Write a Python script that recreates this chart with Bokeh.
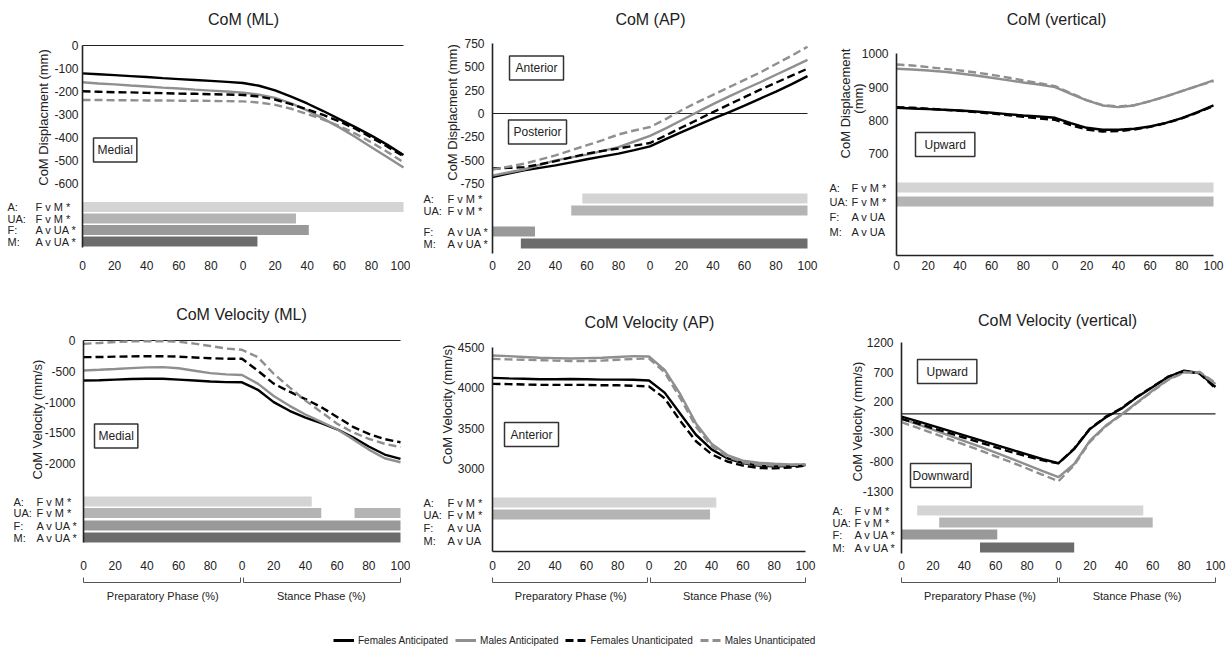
import math
from bokeh.plotting import figure
from bokeh.models import (Range1d, FixedTicker, Label, Legend, LegendItem, LinearAxis)
from bokeh.layouts import column, row
from bokeh.embed import file_html
from bokeh.resources import INLINE

FONT = "Liberation Sans"
TXT = "#222222"

# ---------------- data ----------------
# x: 0-100 = preparatory phase (%), 100-200 = stance phase (0-100 %)
X = list(range(0, 201, 10))
x_ticks = list(range(0, 201, 20))
x_tick_labels = ["0", "20", "40", "60", "80", "0", "20", "40", "60", "80", "100"]
phase_labels = ["Preparatory Phase (%)", "Stance Phase (%)"]
phase_spans = [(0, 100), (100, 200)]

series = ["Females Anticipated", "Males Anticipated", "Females Unanticipated", "Males Unanticipated"]
row_prefix = ["A:", "UA:", "F:", "M:"]
row_compare = ["F v M", "F v M", "A v UA", "A v UA"]

titles = ["CoM (ML)", "CoM (AP)", "CoM (vertical)",
          "CoM Velocity (ML)", "CoM Velocity (AP)", "CoM Velocity (vertical)"]
y_labels = [["CoM Displacment (mm)"], ["CoM Displacment (mm)"], ["CoM Displacement", "(mm)"],
            ["CoM Velocity (mm/s)"], ["CoM Velocity (mm/s)"], ["CoM Velocity (mm/s)"]]
direction_labels = [["Medial"], ["Anterior", "Posterior"], ["Upward"],
                    ["Medial"], ["Anterior"], ["Upward", "Downward"]]

# Panel 1: CoM (ML) displacement (mm)
ml_disp_fa = [-121, -125, -129, -133, -137, -142, -146, -150, -154, -158, -163, -175, -195, -222, -252, -285, -320, -355, -392, -432, -476]
ml_disp_ma = [-160, -165, -169, -174, -178, -183, -187, -192, -196, -200, -205, -214, -228, -252, -282, -318, -356, -398, -442, -486, -530]
ml_disp_fua = [-199, -201, -203, -204, -206, -207, -209, -210, -212, -213, -215, -222, -235, -255, -278, -302, -330, -362, -400, -440, -482]
ml_disp_mua = [-237, -237, -238, -238, -239, -239, -240, -240, -241, -242, -243, -248, -258, -275, -298, -322, -350, -383, -421, -463, -508]
ml_disp_yticks = [0, -100, -200, -300, -400, -500, -600]
ml_disp_sig = [[(0, 200)], [(0, 133)], [(0, 141)], [(0, 109)]]

# Panel 2: CoM (AP) displacement (mm)
ap_disp_fa = [-680, -645, -610, -583, -556, -523, -490, -460, -430, -393, -352, -275, -200, -128, -55, 12, 85, 160, 235, 315, 400]
ap_disp_ma = [-665, -632, -600, -550, -502, -470, -440, -400, -360, -300, -240, -160, -72, 15, 100, 180, 260, 335, 415, 495, 575]
ap_disp_fua = [-590, -583, -574, -545, -510, -470, -430, -400, -375, -345, -316, -235, -150, -68, 15, 95, 175, 255, 330, 405, 480]
ap_disp_mua = [-600, -570, -538, -495, -449, -395, -340, -285, -225, -182, -145, -60, 35, 120, 200, 280, 360, 440, 530, 620, 715]
ap_disp_yticks = [750, 500, 250, 0, -250, -500, -750]
ap_disp_sig = [[(57, 200)], [(50, 200)], [(0, 27)], [(18, 200)]]

# Panel 3: CoM (vertical) displacement (mm)
v_disp_fa = [838, 836, 834, 832, 830, 827, 823, 819, 815, 812, 808, 792, 778, 772, 772, 775, 782, 793, 807, 825, 845]
v_disp_ma = [955, 953, 950, 946, 941, 935, 928, 921, 914, 908, 900, 880, 860, 845, 840, 845, 858, 872, 888, 904, 920]
v_disp_fua = [840, 838, 835, 832, 829, 825, 821, 816, 811, 806, 802, 786, 773, 767, 768, 773, 781, 792, 806, 824, 843]
v_disp_mua = [968, 965, 960, 955, 950, 944, 937, 929, 920, 912, 903, 882, 861, 846, 842, 846, 858, 872, 888, 904, 918]
v_disp_yticks = [1000, 900, 800, 700]
v_disp_sig = [[(0, 200)], [(0, 200)], [], []]

# Panel 4: CoM velocity (ML) (mm/s)
ml_vel_fa = [-650, -645, -635, -625, -620, -620, -635, -650, -665, -675, -678, -800, -1000, -1140, -1250, -1340, -1440, -1570, -1720, -1850, -1920]
ml_vel_ma = [-486, -475, -462, -448, -436, -432, -450, -490, -530, -550, -560, -700, -900, -1060, -1200, -1320, -1440, -1600, -1770, -1910, -1975]
ml_vel_fua = [-270, -268, -262, -258, -255, -255, -262, -275, -288, -295, -297, -490, -700, -830, -950, -1080, -1240, -1400, -1515, -1600, -1650]
ml_vel_mua = [-54, -40, -25, -15, -12, -11, -20, -50, -90, -130, -151, -270, -540, -760, -975, -1160, -1350, -1490, -1595, -1675, -1730]
ml_vel_yticks = [0, -500, -1000, -1500, -2000]
ml_vel_sig = [[(0, 144)], [(0, 150), (171, 200)], [(0, 200)], [(0, 200)]]

# Panel 5: CoM velocity (AP) (mm/s)
ap_vel_fa = [4122, 4115, 4110, 4105, 4105, 4108, 4105, 4100, 4100, 4098, 4090, 3940, 3680, 3420, 3240, 3130, 3070, 3040, 3030, 3035, 3045]
ap_vel_ma = [4397, 4390, 4380, 4370, 4365, 4360, 4365, 4370, 4380, 4390, 4385, 4220, 3920, 3560, 3310, 3170, 3100, 3075, 3062, 3055, 3055]
ap_vel_fua = [4048, 4045, 4040, 4035, 4035, 4035, 4035, 4030, 4030, 4025, 4015, 3870, 3590, 3340, 3180, 3090, 3040, 3010, 3005, 3015, 3040]
ap_vel_mua = [4356, 4350, 4345, 4340, 4335, 4330, 4330, 4335, 4345, 4355, 4360, 4190, 3870, 3520, 3280, 3150, 3080, 3050, 3040, 3045, 3055]
ap_vel_yticks = [4500, 4000, 3500, 3000]
ap_vel_sig = [[(0, 143)], [(0, 139)], [], []]

# Panel 6: CoM velocity (vertical) (mm/s)
v_vel_fa = [-45, -120, -200, -280, -360, -440, -520, -600, -680, -760, -826, -590, -255, -60, 85, 280, 450, 620, 725, 680, 450]
v_vel_ma = [-84, -170, -265, -360, -455, -550, -650, -750, -855, -960, -1060, -840, -450, -200, -10, 190, 390, 580, 700, 690, 500]
v_vel_fua = [-84, -160, -240, -320, -400, -480, -560, -640, -710, -780, -830, -580, -250, -50, 95, 285, 455, 625, 720, 670, 430]
v_vel_mua = [-140, -230, -325, -420, -515, -610, -710, -810, -915, -1020, -1127, -860, -470, -210, -20, 180, 380, 570, 690, 700, 520]
v_vel_yticks = [1200, 700, 200, -300, -800, -1300]
v_vel_sig = [[(10, 154)], [(24, 160)], [(0, 61)], [(50, 110)]]

# ---------------- styles ----------------
line_colors = ["#000000", "#8f8f8f", "#000000", "#8f8f8f"]
line_dashes = ["solid", "solid", "8 4", "8 4"]
bar_colors = ["#d4d4d4", "#b4b4b4", "#999999", "#6c6c6c"]

# ---------------- layout (page pixels) ----------------
LAY = [
    dict(x0=0, w=410, y0=0, h=290, fb=255, ax=82, x200=403, ta=(0, 45), tb=(-600, 183), ybot=247, ystd=4,
         rows=[206.5, 218, 229.5, 241], title=(243, 19), xline=False, zero=True, pre=7, comp=35,
         ylab=[(43, 117)], boxes=[(88, 149.5, 4)]),
    dict(x0=410, w=408, y0=0, h=290, fb=255, ax=492, x200=807, ta=(750, 43), tb=(-750, 183), ybot=253, ystd=8,
         rows=[198, 210, 231, 243], title=(650, 19), xline=False, zero=True, pre=423, comp=447,
         ylab=[(452, 112)], boxes=[(502, 67.5, 6), (502, 131.5, 5)]),
    dict(x0=818, w=410, y0=0, h=290, fb=255, ax=896, x200=1213, ta=(1000, 53.3), tb=(700, 153.3), ybot=255, ystd=8,
         rows=[187, 201, 216, 231], title=(1056, 19), xline=True, zero=False, pre=829, comp=851,
         ylab=[(845, 103), (858, 98)], boxes=[(905, 144, 9)]),
    dict(x0=0, w=410, y0=290, h=322, fb=551, ax=83, x200=400, ta=(0, 340), tb=(-2000, 463.3), ybot=542, ystd=8,
         rows=[501, 512.5, 525, 537], title=(241, 314), xline=False, zero=True, pre=13, comp=36,
         ylab=[(37, 419)], boxes=[(89, 435.5, 4)]),
    dict(x0=410, w=408, y0=290, h=322, fb=551, ax=492, x200=805, ta=(4500, 346.7), tb=(3000, 468.3), ybot=551, ystd=8,
         rows=[502, 514, 527, 540], title=(649, 322), xline=True, zero=False, pre=423, comp=447,
         ylab=[(447, 404)], boxes=[(497, 434, 6)]),
    dict(x0=818, w=410, y0=290, h=322, fb=551, ax=901, x200=1215, ta=(1200, 341.7), tb=(-1300, 491), ybot=553, ystd=8,
         rows=[510, 522, 534, 547], title=(1057, 320), xline=False, zero=True, pre=832, comp=854,
         ylab=[(857, 421)], boxes=[(907, 371, 9), (907, 475, 2)]),
]
BRACKET_Y = 582
BRACKET_GAP = 0.7


def make_panel(i, ser, yticks, sig, L, bottom_row):
    (va, pa), (vb, pb) = L["ta"], L["tb"]
    ppu = (pb - pa) / (va - vb)

    def ydat(p):
        return va - (p - pa) / ppu

    def xdat(p):
        return (p - L["ax"]) / (L["x200"] - L["ax"]) * 200.0

    p = figure(width=L["w"], height=L["h"],
               x_range=Range1d(xdat(L["x0"]), xdat(L["x0"] + L["w"])),
               y_range=Range1d(ydat(L["y0"] + L["h"]), ydat(L["y0"])),
               output_backend="svg", toolbar_location=None, x_axis_type=None, y_axis_type=None,
               min_border=0, outline_line_color=None,
               background_fill_color="white", border_fill_color="white")

    top_tick = max(yticks)
    ya = LinearAxis(ticker=FixedTicker(ticks=yticks), fixed_location=0, bounds=(ydat(L["ybot"]), top_tick),
                    major_label_overrides={t: str(t) for t in yticks},
                    axis_line_color="#222222", axis_line_width=1.6,
                    major_tick_line_color=None, minor_tick_line_color=None,
                    major_tick_in=0, major_tick_out=0, minor_tick_in=0, minor_tick_out=0,
                    major_label_text_font=FONT, major_label_text_font_size="12px",
                    major_label_text_color=TXT, major_label_standoff=L["ystd"])
    p.add_layout(ya, "left")

    xa = LinearAxis(ticker=FixedTicker(ticks=x_ticks), fixed_location=ydat(L["fb"]), bounds=(0, 200),
                    major_label_overrides={t: s for t, s in zip(x_ticks, x_tick_labels)},
                    axis_line_color="#222222" if L["xline"] else None, axis_line_width=1.6,
                    major_tick_line_color=None, minor_tick_line_color=None,
                    major_tick_in=0, major_tick_out=0, minor_tick_in=0, minor_tick_out=0,
                    major_label_text_font=FONT, major_label_text_font_size="12px",
                    major_label_text_color=TXT, major_label_standoff=5 if not bottom_row else 9)
    p.add_layout(xa, "below")

    if bottom_row:
        for k, ((a, b), lab) in enumerate(zip(phase_spans, phase_labels)):
            a2 = a + (BRACKET_GAP if k > 0 else 0)
            b2 = b - (BRACKET_GAP if k == 0 else 0)
            mid = (a + b) / 2
            ph = LinearAxis(ticker=FixedTicker(ticks=[mid], minor_ticks=[a2, b2]),
                            fixed_location=ydat(BRACKET_Y), bounds=(a2, b2),
                            major_label_overrides={mid: lab},
                            axis_line_color="#555555", axis_line_width=1,
                            major_tick_line_color=None, minor_tick_line_color="#555555",
                            major_tick_in=0, major_tick_out=0,
                            minor_tick_in=5, minor_tick_out=0,
                            major_label_text_font=FONT, major_label_text_font_size="11px",
                            major_label_text_color=TXT, major_label_standoff=7)
            p.add_layout(ph, "below")

    if L["zero"]:
        p.segment(x0=[X[0]], x1=[X[-1]], y0=[0], y1=[0], line_color="#222222", line_width=1.2)

    for vals, c, d in zip(ser, line_colors, line_dashes):
        p.line(X, vals, line_color=c, line_width=2.4, line_dash=d)

    bh = 10.0 / ppu
    for r, ivals in enumerate(sig):
        yc = ydat(L["rows"][r])
        for (a, b) in ivals:
            p.hbar(y=[yc], left=[a], right=[b], height=bh, fill_color=bar_colors[r], line_color=None)
        star = " *" if ivals else ""
        p.add_layout(Label(x=xdat(L["pre"]), y=yc, text=row_prefix[r], text_font=FONT,
                           text_font_size="11px", text_color=TXT, text_align="left", text_baseline="middle"))
        p.add_layout(Label(x=xdat(L["comp"]), y=yc, text=row_compare[r] + star, text_font=FONT,
                           text_font_size="11px", text_color=TXT, text_align="left", text_baseline="middle"))

    tx, ty = L["title"]
    p.add_layout(Label(x=xdat(tx), y=ydat(ty), text=titles[i], text_font=FONT, text_font_size="16px",
                       text_color=TXT, text_align="center", text_baseline="middle"))

    for txt, (lx, ly) in zip(y_labels[i], L["ylab"]):
        p.add_layout(Label(x=xdat(lx), y=ydat(ly), text=txt, angle=math.pi / 2,
                           text_font=FONT, text_font_size="13px", text_color=TXT,
                           text_align="center", text_baseline="middle"))

    for txt, (bx, by, padh) in zip(direction_labels[i], L["boxes"]):
        p.add_layout(Label(x=xdat(bx + padh + 1), y=ydat(by), text=txt, text_font=FONT, text_font_size="12px",
                           text_color=TXT, text_align="left", text_baseline="middle",
                           border_line_color="#333333", border_line_width=1.5,
                           background_fill_color="white", padding=(padh, 5)))
    return p


SER = [
    [ml_disp_fa, ml_disp_ma, ml_disp_fua, ml_disp_mua],
    [ap_disp_fa, ap_disp_ma, ap_disp_fua, ap_disp_mua],
    [v_disp_fa, v_disp_ma, v_disp_fua, v_disp_mua],
    [ml_vel_fa, ml_vel_ma, ml_vel_fua, ml_vel_mua],
    [ap_vel_fa, ap_vel_ma, ap_vel_fua, ap_vel_mua],
    [v_vel_fa, v_vel_ma, v_vel_fua, v_vel_mua],
]
YT = [ml_disp_yticks, ap_disp_yticks, v_disp_yticks, ml_vel_yticks, ap_vel_yticks, v_vel_yticks]
SIG = [ml_disp_sig, ap_disp_sig, v_disp_sig, ml_vel_sig, ap_vel_sig, v_vel_sig]

panels = [make_panel(i, SER[i], YT[i], SIG[i], LAY[i], i >= 3) for i in range(6)]

# legend strip
lf = figure(width=1228, height=41, x_range=Range1d(0, 1), y_range=Range1d(0, 1),
            output_backend="svg", toolbar_location=None, x_axis_type=None, y_axis_type=None,
            min_border=0, outline_line_color=None)
items = []
for name, c, d in zip(series, line_colors, line_dashes):
    r = lf.line([-5, -4], [-5, -4], line_color=c, line_width=3, line_dash=d)
    items.append(LegendItem(label=name, renderers=[r]))
leg = Legend(items=items, orientation="horizontal", location=(333, 6), padding=0, margin=0,
             spacing=7, glyph_width=21, glyph_height=14, label_height=14, label_standoff=4,
             border_line_color=None, background_fill_alpha=0,
             label_text_font=FONT, label_text_font_size="10px", label_text_color=TXT)
lf.add_layout(leg)

layout = column(row(panels[0], panels[1], panels[2]), row(panels[3], panels[4], panels[5]), lf)
open("out.html", "w").write(file_html(layout, INLINE))
